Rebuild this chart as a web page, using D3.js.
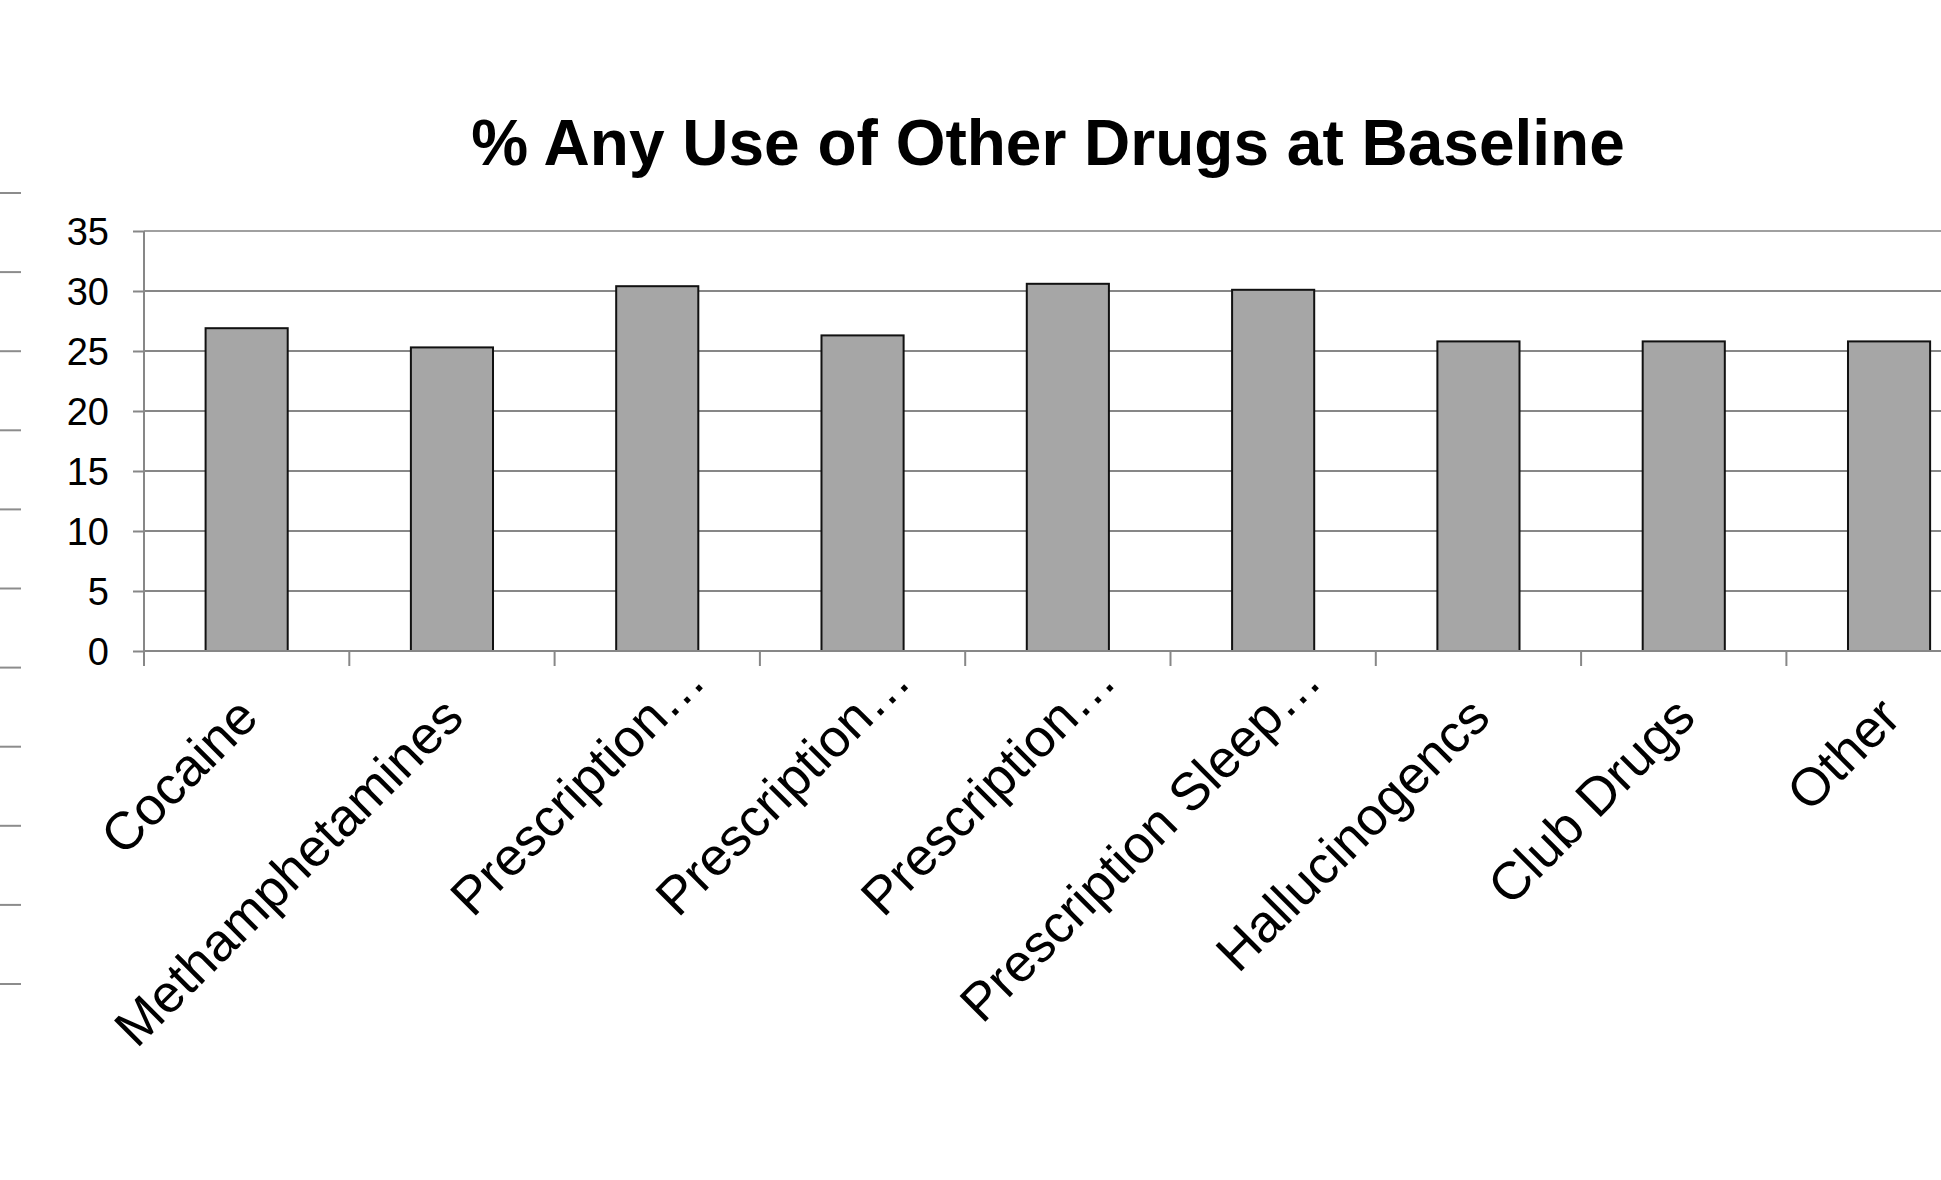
<!DOCTYPE html>
<html>
<head>
<meta charset="utf-8">
<script src="https://cdn.jsdelivr.net/npm/d3@7"></script>
<style>
  html, body { margin: 0; padding: 0; background: #fff; overflow: hidden; }
  svg { display: block; font-family: "Liberation Sans", Arial, sans-serif; }
</style>
</head>
<body>
<svg id="chart" width="1941" height="1180"></svg>
<script>
const title = "% Any Use of Other Drugs at Baseline";
const categories = ["Cocaine", "Methamphetamines", "Prescription\u2026", "Prescription\u2026", "Prescription\u2026", "Prescription Sleep\u2026", "Hallucinogencs", "Club Drugs", "Other"];
const categoryKeys = ["c1", "c2", "c3", "c4", "c5", "c6", "c7", "c8", "c9"];
const values = [26.9, 25.3, 30.4, 26.3, 30.6, 30.1, 25.8, 25.8, 25.8];
const yTicks = [0, 5, 10, 15, 20, 25, 30, 35];
const edgeTicks = [0, 1, 2, 3, 4, 5, 6, 7, 8, 9, 10];

const W = 1941, H = 1180;
const svg = d3.select("#chart");

const plotLeft = 144, step = 205.3;
const y0 = 651, yTop = 231;

const x = d3.scaleBand().domain(categoryKeys).range([plotLeft, plotLeft + step * categoryKeys.length]).padding(0);
const y = d3.scaleLinear().domain([0, 35]).range([y0, yTop]);

// cut-off axis at far left edge
const edge = d3.scaleLinear().domain([0, 10]).range([193, 984]);
svg.append("g").selectAll("line").data(edgeTicks).join("line")
  .attr("x1", 0).attr("x2", 21)
  .attr("y1", d => edge(d)).attr("y2", d => edge(d))
  .attr("stroke", "#8c8c8c").attr("stroke-width", 2);

// gridlines
svg.append("g").selectAll("line").data(yTicks.filter(d => d > 0)).join("line")
  .attr("x1", plotLeft).attr("x2", W)
  .attr("y1", d => y(d)).attr("y2", d => y(d))
  .attr("stroke", d => d === 35 ? "#a0a0a0" : "#878787").attr("stroke-width", 2);

// y axis
const yAxis = svg.append("g").attr("transform", `translate(${plotLeft},0)`)
  .call(d3.axisLeft(y).tickValues(yTicks).tickSize(11).tickPadding(24));
yAxis.select(".domain").remove();
yAxis.selectAll(".tick line").attr("stroke", "#878787").attr("stroke-width", 2);
yAxis.selectAll(".tick text").attr("font-size", 38).attr("fill", "#000")
  .attr("font-family", "'Liberation Sans', Arial, sans-serif").attr("dy", "0.35em");
svg.append("line").attr("x1", plotLeft).attr("x2", plotLeft)
  .attr("y1", yTop).attr("y2", y0 + 15)
  .attr("stroke", "#878787").attr("stroke-width", 2);

// bars
const bw = x.bandwidth() * 0.4;
svg.append("g").selectAll("rect").data(values).join("rect")
  .attr("x", (d, i) => x(categoryKeys[i]) + (x.bandwidth() - bw) / 2)
  .attr("y", d => y(d))
  .attr("width", bw)
  .attr("height", d => y0 - y(d))
  .attr("fill", "#a6a6a6")
  .attr("stroke", "#111").attr("stroke-width", 2);

// x axis line and ticks
svg.append("line").attr("x1", plotLeft).attr("x2", W)
  .attr("y1", y0).attr("y2", y0)
  .attr("stroke", "#878787").attr("stroke-width", 2);
const boundaries = categoryKeys.map(k => x(k)).concat([x.range()[1]]);
svg.append("g").selectAll("line").data(boundaries).join("line")
  .attr("x1", d => d).attr("x2", d => d)
  .attr("y1", y0).attr("y2", y0 + 15)
  .attr("stroke", "#878787").attr("stroke-width", 2);

// x labels
svg.append("g").selectAll("text").data(categories).join("text")
  .attr("transform", (d, i) => `translate(${x(categoryKeys[i]) + x.bandwidth() / 2 + 14},${720}) rotate(-45)`)
  .attr("dx", d => d.endsWith("\u2026") ? 52 : 0)
  .attr("text-anchor", "end")
  .attr("font-size", 53)
  .attr("fill", "#000")
  .text(d => d);

// title
svg.append("text")
  .attr("x", 1048).attr("y", 165)
  .attr("text-anchor", "middle")
  .attr("font-size", 64).attr("font-weight", "bold")
  .attr("fill", "#000")
  .text(title);
</script>
</body>
</html>
